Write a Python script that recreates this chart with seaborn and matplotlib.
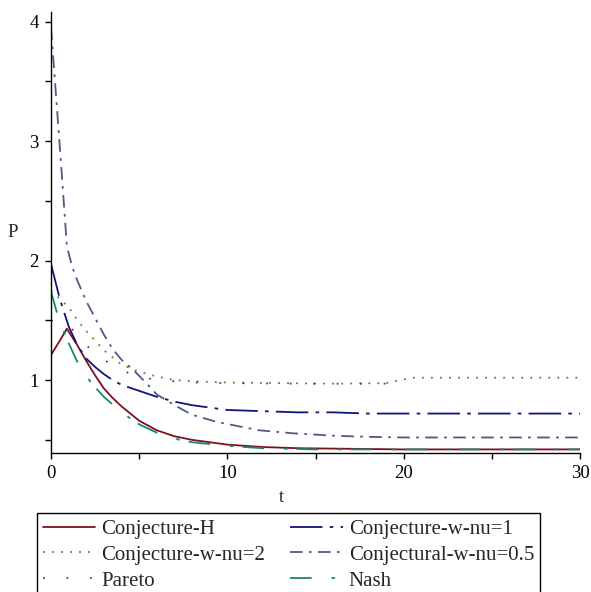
import numpy as np
import pandas as pd
import seaborn as sns
from matplotlib import pyplot as plt
from matplotlib.ticker import MultipleLocator

# series
t_h = [0, 0.5, 0.9, 1.5, 2, 2.5, 3, 3.5, 4, 5, 6, 7, 8, 10, 12, 14, 17, 20, 25, 30]
p_h = [1.21, 1.33, 1.43, 1.29, 1.16, 1.04, 0.93, 0.85, 0.78, 0.66, 0.58, 0.53, 0.50, 0.46, 0.44, 0.43, 0.425, 0.42, 0.42, 0.42]

t_nu1 = [0, 0.5, 1, 1.5, 2, 2.5, 3, 3.5, 4, 5, 6, 7, 8, 10, 12, 14, 16, 18, 20, 25, 30]
p_nu1 = [1.97, 1.68, 1.45, 1.29, 1.18, 1.11, 1.05, 1.00, 0.96, 0.91, 0.86, 0.82, 0.79, 0.75, 0.74, 0.73, 0.73, 0.72, 0.72, 0.72, 0.72]

t_nu2 = [0, 0.5, 1, 1.5, 2, 3, 4, 5, 6, 7, 8, 10, 13, 16, 19, 20.5, 25, 30]
p_nu2 = [1.75, 1.68, 1.61, 1.50, 1.41, 1.25, 1.13, 1.07, 1.03, 1.00, 0.99, 0.98, 0.975, 0.97, 0.975, 1.02, 1.02, 1.02]

t_nu05 = [0, 0.3, 0.6, 0.9, 1.2, 1.5, 2, 2.5, 3, 3.5, 4, 4.7, 5.5, 6, 7, 8, 9.4, 11.8, 13.7, 16, 18, 20, 25, 30]
p_nu05 = [3.95, 3.35, 2.75, 2.12, 1.95, 1.83, 1.66, 1.52, 1.38, 1.26, 1.17, 1.08, 0.96, 0.88, 0.79, 0.71, 0.65, 0.58, 0.555, 0.535, 0.525, 0.52, 0.52, 0.52]

t_pareto = [0, 1, 2, 3, 4, 5, 6, 8, 10, 14, 20]
p_pareto = [1.50, 1.46, 1.29, 1.17, 1.08, 1.03, 1.00, 0.98, 0.975, 0.97, 0.97]

t_nash = [0, 0.5, 1, 1.5, 2, 2.5, 3, 4, 5, 6, 7, 8, 10, 12, 15, 20, 25, 30]
p_nash = [1.74, 1.48, 1.31, 1.15, 1.03, 0.94, 0.86, 0.73, 0.63, 0.56, 0.51, 0.48, 0.45, 0.43, 0.42, 0.42, 0.42, 0.42]

names = ["Conjecture-H", "Conjecture-w-nu=1", "Conjecture-w-nu=2",
         "Conjectural-w-nu=0.5", "Pareto", "Nash"]
colors = ["#7e0f1c", "#10157a", "#6f7a2c", "#4d5b84", "#8a1e8a", "#148a6c"]
dash_styles = ["", (18, 4, 2, 4), (1, 4), (7, 3.5, 1.5, 3.5), (1, 12), (12, 11, 2, 5)]

series = [(t_h, p_h), (t_nu1, p_nu1), (t_nu2, p_nu2),
          (t_nu05, p_nu05), (t_pareto, p_pareto), (t_nash, p_nash)]
frames = []
for name, (t, p) in zip(names, series):
    frames.append(pd.DataFrame({"t": t, "P": p, "curve": name}))
df = pd.concat(frames, ignore_index=True)

sns.set_style("ticks")
plt.rcParams["font.family"] = ["Liberation Serif", "DejaVu Serif"]

fig = plt.figure(figsize=(5.91, 5.92), dpi=100)
ax = fig.add_axes([51 / 591, 1 - 453 / 592, 529 / 591, 441 / 592])

sns.lineplot(data=df, x="t", y="P", hue="curve", style="curve",
             hue_order=names, style_order=names,
             palette=dict(zip(names, colors)),
             dashes=dict(zip(names, dash_styles)),
             estimator=None, linewidth=1.3, ax=ax)
ax.get_legend().remove()

ax.set_xlim(0, 30)
ax.set_ylim(0.39, 4.08)
ax.xaxis.set_major_locator(MultipleLocator(10))
ax.xaxis.set_minor_locator(MultipleLocator(5))
ax.yaxis.set_major_locator(MultipleLocator(1))
ax.yaxis.set_minor_locator(MultipleLocator(0.5))
ax.tick_params(which="both", direction="out", length=4, width=1, labelsize=13.5, pad=5, colors="black")
sns.despine(ax=ax)
for s in ["left", "bottom"]:
    ax.spines[s].set_color("black")
    ax.spines[s].set_linewidth(1)

ax.set_xlabel("t", fontsize=13.5)
ax.set_ylabel("P", fontsize=13.5, rotation=0)
ax.xaxis.set_label_coords(0.435, -0.10)
ax.xaxis.label.set_va("center")
ax.yaxis.set_label_coords(-0.072, 0.5)
ax.yaxis.label.set_va("center")
ax.yaxis.label.set_ha("center")

handles, labels = ax.get_legend_handles_labels()
lookup = dict(zip(labels, handles))
order = ["Conjecture-H", "Conjecture-w-nu=2", "Pareto",
         "Conjecture-w-nu=1", "Conjectural-w-nu=0.5", "Nash"]
leg = fig.legend([lookup[n] for n in order], order, ncol=2,
                 loc="upper left", bbox_to_anchor=(37 / 591, 1 - 513 / 592),
                 borderaxespad=0, fontsize=15, handlelength=2.5,
                 handletextpad=0.3, columnspacing=1.2, labelspacing=0.3,
                 borderpad=0.3, fancybox=False, framealpha=1, edgecolor="black")
leg.get_frame().set_linewidth(1)

fig.savefig("out.png", dpi=100)
